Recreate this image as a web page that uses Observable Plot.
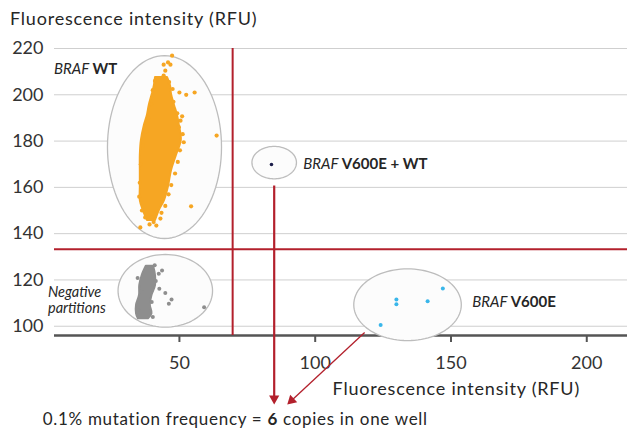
<!DOCTYPE html>
<html><head><meta charset="utf-8">
<script src="https://cdn.jsdelivr.net/npm/d3@7"></script>
<script src="https://cdn.jsdelivr.net/npm/@observablehq/plot@0.6"></script>
<style>body{margin:0;background:#fff;} #chart svg{display:block;}</style>
</head><body><div id="chart"></div>
<script>
// ---------- data ----------
const xTicks = [50, 100, 150, 200];
const yTicks = [100, 120, 140, 160, 180, 200, 220];
const xDomain = [4, 215];
const yDomain = [96, 220];
const xThresh = 69.6;
const yThresh = 133.3;

// BRAF WT (orange) dense core outline: left/right edge at each height
const wtY  = [207.5, 204.0, 200.1, 195.4, 191.1, 186.7, 180.3, 173.8, 167.3, 159.9, 154.3, 150.0, 145.7];
const wtLo = [41.2, 40.8, 40.0, 38.9, 38.2, 37.1, 36.0, 35.6, 35.6, 35.6, 35.6, 36.7, 38.2];
const wtHi = [45.6, 46.7, 47.1, 48.2, 49.3, 50.0, 50.7, 48.9, 47.1, 45.9, 44.5, 42.6, 41.2];
// BRAF WT scattered droplets
const wtDotX = [47.3, 45.8, 44.2, 46.7, 44.8, 44.2, 50.0, 52.5, 55.6, 51.0, 50.4, 51.6, 63.7, 54.3, 35.6, 40.5, 39.9,
                36.5, 35.8, 35.4, 35.2, 36.2, 37.4, 37.8, 38.5, 39.6, 40.2, 41.0,
                51.2, 50.2, 49.4, 48.4, 47.0, 46.0, 44.8, 43.4, 49.8, 49.2, 47.8, 47.5, 46.2, 39.0, 41.5, 43.0];
const wtDotY = [216.9, 214.0, 213.0, 213.0, 210.4, 208.3, 201.0, 200.0, 201.0, 190.7, 188.8, 179.5, 182.4, 151.8, 142.7, 145.0, 147.2,
                178.0, 170.0, 162.0, 156.0, 150.0, 147.0, 184.0, 190.0, 196.0, 202.0, 206.0,
                183.0, 176.0, 171.0, 166.0, 161.0, 157.0, 152.0, 149.0, 186.0, 192.0, 197.0, 202.5, 205.5, 144.0, 143.5, 146.5];

// Negative partitions (gray) dense core outline
const negY  = [125.9, 121.9, 117.6, 113.3, 109.0, 105.4, 103.2];
const negLo = [37.8, 36.3, 35.4, 35.3, 34.2, 34.2, 34.9];
const negHi = [40.5, 41.2, 41.2, 39.9, 39.3, 39.9, 38.6];
const negDotX = [43.6, 42.4, 34.6, 42.6, 44.8, 47.1, 46.1, 59.1, 40.9, 41.3, 36.0, 34.8, 40.2, 39.8];
const negDotY = [124.1, 122.7, 120.8, 116.2, 114.4, 111.6, 109.7, 108.2, 126.3, 119.5, 115.0, 107.0, 104.0, 110.5];

// BRAF V600E (blue) droplets
const mutX = [147.0, 129.9, 129.9, 141.4, 124.1];
const mutY = [116.3, 111.6, 109.5, 110.8, 100.5];
// BRAF V600E + WT (double positive) droplet
const dblX = [83.9];
const dblY = [169.9];

// cluster ellipses
const ellName = ["WT", "Negative", "V600E+WT", "V600E"];
const ellCx = [44.5, 44.8, 84.9, 134.0];
const ellCy = [177.4, 115.3, 170.7, 109.3];
const ellRx = [21.0, 17.4, 8.2, 19.8];
const ellRy = [39.5, 15.7, 7.0, 15.5];

// annotation arrows (from cluster to caption)
const arrX1 = [84.9, 118.2];
const arrY1 = [160.8, 97.3];
const arrX2 = [84.9, 89.7];
const arrY2 = [66.2, 66.2];

// ---------- build ----------
const FONT = "Lato, 'Open Sans', sans-serif";
const RED = "#b3202c";
const ORANGE = "#f6a623";
const GRAY = "#8e8e8e";
const W = 627, H = 431, mL = 54, mR = 0, mT = 48, mB = 96;

const wtCore = wtY.map((y, i) => ({y, lo: wtLo[i], hi: wtHi[i]}));
const wtDots = wtDotX.map((x, i) => ({x, y: wtDotY[i]}));
const negCore = negY.map((y, i) => ({y, lo: negLo[i], hi: negHi[i]}));
const negDots = negDotX.map((x, i) => ({x, y: negDotY[i]}));
const mutDots = mutX.map((x, i) => ({x, y: mutY[i]}));
const dblDots = dblX.map((x, i) => ({x, y: dblY[i]}));

const ellPts = ellName.flatMap((n, i) => d3.range(97).map(k => {
  const t = k / 96 * 2 * Math.PI;
  return {id: n, x: ellCx[i] + ellRx[i] * Math.cos(t), y: ellCy[i] + ellRy[i] * Math.sin(t)};
}));

// arrowheads: compute a filled triangle just behind each tip, in pixel space
const sx0 = Plot.scale({x: {domain: xDomain, range: [mL, W - mR]}});
const sy0 = Plot.scale({y: {domain: yDomain, range: [H - mB, mT]}});
const heads = [], shafts = [];
arrX1.forEach((x1, i) => {
  const p1 = [sx0.apply(x1), sy0.apply(arrY1[i])];
  const p2 = [sx0.apply(arrX2[i]), sy0.apply(arrY2[i])];
  const len = Math.hypot(p2[0] - p1[0], p2[1] - p1[1]);
  const d = [(p2[0] - p1[0]) / len, (p2[1] - p1[1]) / len];
  const c = [p2[0] - d[0] * 5.9, p2[1] - d[1] * 5.9];
  heads.push({x: sx0.invert(c[0]), y: sy0.invert(c[1]), rot: Math.atan2(d[0], -d[1]) * 180 / Math.PI});
  shafts.push({x1, y1: arrY1[i], x2: sx0.invert(c[0]), y2: sy0.invert(c[1])});
});

const plot = Plot.plot({
  width: W, height: H, marginLeft: mL, marginRight: mR, marginTop: mT, marginBottom: mB,
  x: {domain: xDomain},
  y: {domain: yDomain},
  style: {fontFamily: FONT, fontSize: "18px", color: "#333", background: "#fff"},
  marks: [
    Plot.gridY(yTicks, {stroke: "#cfcfcf", strokeOpacity: 1, strokeWidth: 1}),
    Plot.axisY(yTicks, {tickSize: 0, tickPadding: 11, label: null, fontSize: 18}),
    Plot.axisX(xTicks, {tickSize: 7, tickPadding: 14, label: null, stroke: "#555", strokeWidth: 2, fontSize: 18}),
    Plot.ruleY([yDomain[0]], {stroke: "#555", strokeWidth: 2.5}),
    Plot.link(shafts.slice(1), {x1: "x1", y1: "y1", x2: "x2", y2: "y2", stroke: RED, strokeWidth: 1.3}),
    Plot.line(ellPts, {x: "x", y: "y", z: "id", curve: "linear-closed", stroke: "#bdbdbd", strokeWidth: 1.3, fill: "#fcfcfc", fillOpacity: 1}),
    Plot.ruleX([xThresh], {y1: yDomain[0], y2: yDomain[1], stroke: RED, strokeWidth: 2}),
    Plot.ruleY([yThresh], {stroke: RED, strokeWidth: 2}),
    Plot.areaX(wtCore, {y: "y", x1: "lo", x2: "hi", fill: ORANGE, stroke: ORANGE, strokeWidth: 2, curve: "catmull-rom"}),
    Plot.dot(wtDots, {x: "x", y: "y", r: 2.1, fill: ORANGE}),
    Plot.areaX(negCore, {y: "y", x1: "lo", x2: "hi", fill: GRAY, stroke: GRAY, strokeWidth: 2, curve: "catmull-rom"}),
    Plot.dot(negDots, {x: "x", y: "y", r: 2, fill: GRAY}),
    Plot.dot(mutDots, {x: "x", y: "y", r: 2, fill: "#39b6ea"}),
    Plot.dot(dblDots, {x: "x", y: "y", r: 1.8, fill: "#1b1d4a"}),
    Plot.link(shafts.slice(0, 1), {x1: "x1", y1: "y1", x2: "x2", y2: "y2", stroke: RED, strokeWidth: 2.2}),
    Plot.dot(heads, {x: "x", y: "y", symbol: "triangle", r: 3.8, fill: RED, rotate: "rot"})
  ]
});

// ---------- texts (mixed italic / bold labels) ----------
const svg = d3.select(plot);
const sx = plot.scale("x"), sy = plot.scale("y");
function label(x, y, parts, size, anchor, spacing) {
  const t = svg.append("text").attr("x", x).attr("y", y)
    .attr("font-family", FONT).attr("font-size", size).attr("fill", "#262626")
    .attr("text-anchor", anchor || "start");
  if (spacing) t.attr("letter-spacing", spacing);
  parts.forEach(([s, st]) => {
    const sp = t.append("tspan").text(s);
    if (st === "i") sp.attr("font-style", "italic");
    if (st === "b") sp.attr("font-weight", "bold");
  });
}
label(10, 25, [["Fluorescence intensity (RFU)", ""]], 18, "start", 0.8);
label(sx.apply(215) - 47, 395, [["Fluorescence intensity (RFU)", ""]], 18, "end", 0.8);
label(42.7, 425, [["0.1% mutation frequency = ", ""], ["6", "b"], [" copies in one well", ""]], 17, "start", 0.7);
label(sx.apply(4), sy.apply(208.8), [["BRAF ", "i"], ["WT", "b"]], 15);
label(sx.apply(95.8), sy.apply(167.6), [["BRAF ", "i"], ["V600E + WT", "b"]], 15);
label(sx.apply(158.0), sy.apply(108.2), [["BRAF ", "i"], ["V600E", "b"]], 15);
label(sx.apply(1.8), sy.apply(112.6), [["Negative", "i"]], 14.5);
label(sx.apply(1.8), sy.apply(105.3), [["partitions", "i"]], 14.5);

document.getElementById("chart").appendChild(plot);
</script></body></html>
